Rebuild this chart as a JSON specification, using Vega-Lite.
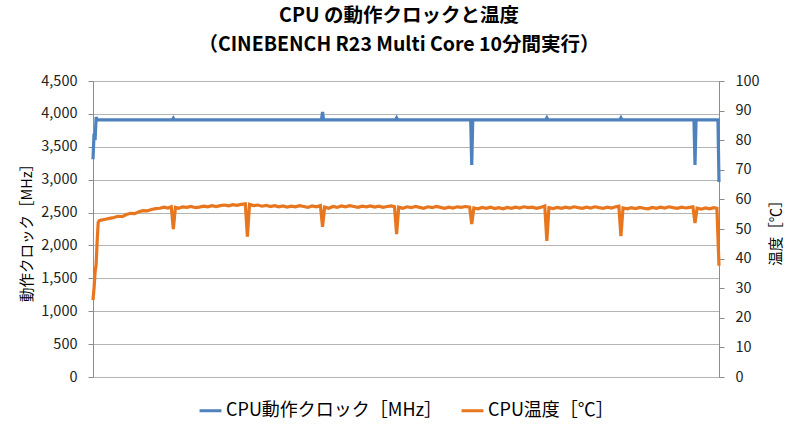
{
  "$schema": "https://vega.github.io/schema/vega-lite/v6.json",
  "width": 626,
  "height": 296,
  "autosize": "none",
  "padding": {"left": 93, "top": 81, "right": 81, "bottom": 55},
  "background": "white",
  "title": {
    "text": ["CPU の動作クロックと温度", "（CINEBENCH R23 Multi Core 10分間実行）"],
    "font": "Noto Sans CJK JP",
    "fontSize": 19.5,
    "fontWeight": "bold",
    "color": "#000000",
    "lineHeight": 29,
    "anchor": "middle",
    "dx": -7,
    "offset": 18
  },
  "datasets": {
    "clock": [
      {"t": 0, "mhz": 3310},
      {"t": 1, "mhz": 3700},
      {"t": 2, "mhz": 3600},
      {"t": 3, "mhz": 3950},
      {"t": 4, "mhz": 3910},
      {"t": 76, "mhz": 3910},
      {"t": 77, "mhz": 3935},
      {"t": 78, "mhz": 3910},
      {"t": 219, "mhz": 3910},
      {"t": 220, "mhz": 4030},
      {"t": 221, "mhz": 3910},
      {"t": 290, "mhz": 3910},
      {"t": 291, "mhz": 3940},
      {"t": 292, "mhz": 3910},
      {"t": 362, "mhz": 3910},
      {"t": 363, "mhz": 3225},
      {"t": 364, "mhz": 3910},
      {"t": 434, "mhz": 3910},
      {"t": 435, "mhz": 3940},
      {"t": 436, "mhz": 3910},
      {"t": 505, "mhz": 3910},
      {"t": 506, "mhz": 3940},
      {"t": 507, "mhz": 3910},
      {"t": 576, "mhz": 3910},
      {"t": 577, "mhz": 3225},
      {"t": 578, "mhz": 3910},
      {"t": 599, "mhz": 3910},
      {"t": 600, "mhz": 2965}
    ],
    "temp": [
      {"t": 0, "c": 26.0}, {"t": 1, "c": 30.0}, {"t": 2, "c": 35.5}, {"t": 3, "c": 38.0},
      {"t": 4, "c": 46.0}, {"t": 5, "c": 52.3}, {"t": 6, "c": 52.8}, {"t": 8, "c": 53.0},
      {"t": 12, "c": 53.3}, {"t": 16, "c": 53.6}, {"t": 20, "c": 53.9}, {"t": 24, "c": 54.3},
      {"t": 28, "c": 54.2}, {"t": 32, "c": 54.9}, {"t": 36, "c": 55.3}, {"t": 40, "c": 55.2},
      {"t": 44, "c": 55.8}, {"t": 48, "c": 56.2}, {"t": 52, "c": 56.1}, {"t": 56, "c": 56.6},
      {"t": 60, "c": 56.9}, {"t": 64, "c": 57.0}, {"t": 68, "c": 57.4}, {"t": 72, "c": 57.1},
      {"t": 75, "c": 57.5}, {"t": 77, "c": 50.0}, {"t": 79, "c": 57.3}, {"t": 82, "c": 57.0},
      {"t": 86, "c": 57.5}, {"t": 90, "c": 57.3}, {"t": 94, "c": 57.6}, {"t": 98, "c": 57.2},
      {"t": 102, "c": 57.4}, {"t": 106, "c": 57.7}, {"t": 110, "c": 57.5}, {"t": 114, "c": 57.9},
      {"t": 118, "c": 57.6}, {"t": 122, "c": 57.9}, {"t": 126, "c": 58.1}, {"t": 130, "c": 57.8},
      {"t": 134, "c": 58.2}, {"t": 138, "c": 58.0}, {"t": 142, "c": 58.3}, {"t": 146, "c": 58.5},
      {"t": 148, "c": 47.4}, {"t": 150, "c": 58.3}, {"t": 154, "c": 57.9}, {"t": 158, "c": 58.1},
      {"t": 162, "c": 57.7}, {"t": 166, "c": 58.0}, {"t": 170, "c": 57.6}, {"t": 174, "c": 57.9},
      {"t": 178, "c": 57.5}, {"t": 182, "c": 57.8}, {"t": 186, "c": 57.4}, {"t": 190, "c": 57.7},
      {"t": 194, "c": 57.5}, {"t": 198, "c": 57.9}, {"t": 202, "c": 57.6}, {"t": 206, "c": 57.3},
      {"t": 210, "c": 57.8}, {"t": 214, "c": 57.5}, {"t": 218, "c": 57.9}, {"t": 220, "c": 50.7},
      {"t": 222, "c": 57.4}, {"t": 226, "c": 57.0}, {"t": 230, "c": 57.6}, {"t": 234, "c": 57.3},
      {"t": 238, "c": 57.8}, {"t": 242, "c": 57.5}, {"t": 246, "c": 57.9}, {"t": 250, "c": 57.6},
      {"t": 254, "c": 57.3}, {"t": 258, "c": 57.7}, {"t": 262, "c": 57.5}, {"t": 266, "c": 57.8},
      {"t": 270, "c": 57.4}, {"t": 274, "c": 57.7}, {"t": 278, "c": 57.3}, {"t": 282, "c": 57.6},
      {"t": 286, "c": 57.8}, {"t": 289, "c": 57.5}, {"t": 291, "c": 48.3}, {"t": 293, "c": 57.4},
      {"t": 297, "c": 57.0}, {"t": 301, "c": 57.5}, {"t": 305, "c": 57.2}, {"t": 309, "c": 57.6},
      {"t": 313, "c": 57.3}, {"t": 317, "c": 57.0}, {"t": 321, "c": 57.5}, {"t": 325, "c": 57.2},
      {"t": 329, "c": 57.6}, {"t": 333, "c": 57.3}, {"t": 337, "c": 57.0}, {"t": 341, "c": 57.4},
      {"t": 345, "c": 57.1}, {"t": 349, "c": 57.5}, {"t": 353, "c": 57.3}, {"t": 357, "c": 57.6},
      {"t": 361, "c": 57.4}, {"t": 363, "c": 51.7}, {"t": 365, "c": 57.1}, {"t": 369, "c": 56.8},
      {"t": 373, "c": 57.3}, {"t": 377, "c": 57.0}, {"t": 381, "c": 57.4}, {"t": 385, "c": 56.9},
      {"t": 389, "c": 57.2}, {"t": 393, "c": 56.8}, {"t": 397, "c": 57.3}, {"t": 401, "c": 57.0},
      {"t": 405, "c": 57.4}, {"t": 409, "c": 57.1}, {"t": 413, "c": 57.5}, {"t": 417, "c": 57.2},
      {"t": 421, "c": 57.4}, {"t": 425, "c": 57.0}, {"t": 429, "c": 57.3}, {"t": 433, "c": 57.8},
      {"t": 435, "c": 46.0}, {"t": 437, "c": 57.2}, {"t": 441, "c": 56.9}, {"t": 445, "c": 57.3},
      {"t": 449, "c": 57.0}, {"t": 453, "c": 57.4}, {"t": 457, "c": 57.1}, {"t": 461, "c": 57.5},
      {"t": 465, "c": 57.2}, {"t": 469, "c": 57.0}, {"t": 473, "c": 57.4}, {"t": 477, "c": 57.1},
      {"t": 481, "c": 57.5}, {"t": 485, "c": 57.2}, {"t": 489, "c": 57.0}, {"t": 493, "c": 57.4},
      {"t": 497, "c": 57.1}, {"t": 501, "c": 57.5}, {"t": 504, "c": 57.7}, {"t": 506, "c": 47.6},
      {"t": 508, "c": 57.1}, {"t": 512, "c": 56.8}, {"t": 516, "c": 57.2}, {"t": 520, "c": 56.9},
      {"t": 524, "c": 57.3}, {"t": 528, "c": 57.0}, {"t": 532, "c": 56.8}, {"t": 536, "c": 57.3},
      {"t": 540, "c": 57.0}, {"t": 544, "c": 57.4}, {"t": 548, "c": 57.1}, {"t": 552, "c": 57.5},
      {"t": 556, "c": 57.2}, {"t": 560, "c": 57.0}, {"t": 564, "c": 57.4}, {"t": 568, "c": 57.1},
      {"t": 572, "c": 57.3}, {"t": 575, "c": 57.5}, {"t": 577, "c": 52.0}, {"t": 579, "c": 57.0},
      {"t": 583, "c": 56.7}, {"t": 587, "c": 57.1}, {"t": 591, "c": 56.8}, {"t": 595, "c": 57.2},
      {"t": 598, "c": 57.0}, {"t": 600, "c": 37.6}
    ]
  },
  "encoding": {
    "x": {
      "field": "t",
      "type": "quantitative",
      "scale": {"domain": [0, 600], "nice": false, "zero": false},
      "axis": null
    }
  },
  "layer": [
    {
      "data": {"name": "clock"},
      "mark": {"type": "line", "strokeWidth": 3.2, "interpolate": "linear"},
      "encoding": {
        "y": {
          "field": "mhz",
          "type": "quantitative",
          "scale": {"domain": [0, 4500], "nice": false},
          "axis": {
            "orient": "left",
            "title": "動作クロック［MHz］",
            "values": [0, 500, 1000, 1500, 2000, 2500, 3000, 3500, 4000, 4500],
            "format": ",.0f",
            "grid": true,
            "labelPadding": 11,
            "titlePadding": 6
          }
        },
        "color": {
          "datum": "CPU動作クロック［MHz］",
          "type": "nominal",
          "scale": {
            "domain": ["CPU動作クロック［MHz］", "CPU温度［℃］"],
            "range": ["#4F81BD", "#E8761E"]
          },
          "legend": {
            "orient": "none",
            "direction": "horizontal",
            "legendX": 105,
            "legendY": 317,
            "title": null,
            "symbolType": "stroke",
            "symbolSize": 480,
            "symbolStrokeWidth": 3,
            "labelOffset": 3,
            "columnPadding": 12,
            "labelFontSize": 18,
            "labelFont": "Noto Sans CJK JP",
            "labelColor": "#000000",
            "labelLimit": 400
          }
        }
      }
    },
    {
      "data": {"name": "temp"},
      "mark": {"type": "line", "strokeWidth": 3.2, "interpolate": "linear"},
      "encoding": {
        "y": {
          "field": "c",
          "type": "quantitative",
          "scale": {"domain": [0, 100], "nice": false},
          "axis": {
            "orient": "right",
            "title": "温度［℃］",
            "titleAngle": -90,
            "titleBaseline": "top",
            "values": [0, 10, 20, 30, 40, 50, 60, 70, 80, 90, 100],
            "grid": false,
            "labelPadding": 11,
            "titlePadding": 10
          }
        },
        "color": {"datum": "CPU温度［℃］", "type": "nominal"}
      }
    }
  ],
  "resolve": {"scale": {"y": "independent"}},
  "config": {
    "font": "Noto Sans CJK JP",
    "view": {"stroke": "#9a9a9a", "strokeWidth": 1},
    "axis": {
      "labelFont": "Noto Sans CJK JP",
      "labelFontSize": 14.5,
      "labelColor": "#222222",
      "titleFont": "Noto Sans CJK JP",
      "titleFontSize": 14.5,
      "titleFontWeight": "normal",
      "titleColor": "#000000",
      "domainColor": "#8c8c8c",
      "tickColor": "#8c8c8c",
      "tickSize": 5,
      "gridColor": "#b4b4b4",
      "gridWidth": 1.2
    }
  }
}
